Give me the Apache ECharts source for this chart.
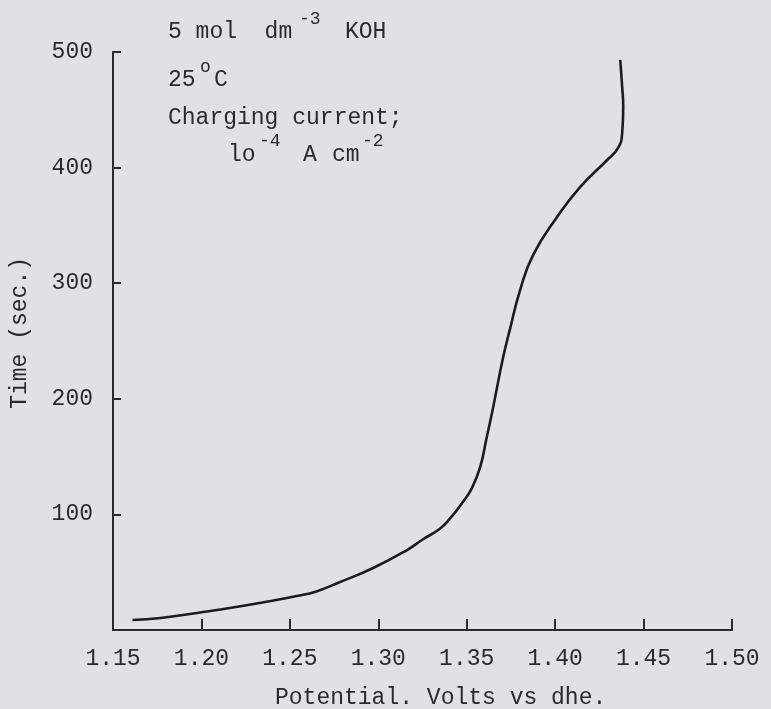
<!DOCTYPE html>
<html>
<head>
<meta charset="utf-8">
<script src="https://cdn.jsdelivr.net/npm/echarts@6/dist/echarts.min.js"></script>
<style>
html,body{margin:0;padding:0;background:#dfe2e5;}
#chart{width:771px;height:709px;}
</style>
</head>
<body>
<div id="chart"></div>
<script>
// Potential (V vs dhe) and time (s)
var potential = [1.161, 1.177, 1.201, 1.216, 1.233, 1.254, 1.265, 1.2784, 1.2971, 1.3163, 1.3253, 1.3350, 1.3406, 1.3474, 1.3530, 1.3578, 1.3610, 1.3644, 1.3672, 1.3706, 1.3745, 1.3802, 1.3876, 1.4011, 1.4141, 1.4294, 1.4356, 1.4379, 1.4385, 1.4379, 1.4368];
var timeSec   = [8.7, 10.4, 15.6, 19.0, 23.4, 29.4, 33.4, 41.5, 53.6, 69.2, 78.5, 87.8, 96.5, 109.9, 123.0, 142.0, 164.4, 188.5, 210.2, 236.0, 260.5, 294.1, 324.5, 357.3, 383.2, 406.6, 417.0, 429.9, 452.4, 469.7, 493.1];
var xTicks = [1.15, 1.50, 0.05];
var yTicks = [0, 500, 100];

var FONT = 'Liberation Mono';
var INK = '#2a2a2a';

var chart = echarts.init(document.getElementById('chart'));
var pts = potential.map(function (p, i) { return [p, timeSec[i]]; });

chart.setOption({
  backgroundColor: '#dfe2e5',
  animation: false,
  grid: { left: 113, right: 39, top: 52, bottom: 79 },
  xAxis: {
    type: 'value', min: xTicks[0], max: xTicks[1], interval: xTicks[2],
    axisLine: { show: true, lineStyle: { color: INK, width: 2 } },
    axisTick: { show: true, inside: true, length: 11, lineStyle: { color: INK, width: 2 } },
    splitLine: { show: false },
    axisLabel: { color: INK, fontFamily: FONT, fontSize: 23, margin: 17,
      formatter: function (v) { return v.toFixed(2); } }
  },
  yAxis: {
    type: 'value', min: yTicks[0], max: yTicks[1], interval: yTicks[2],
    axisLine: { show: true, lineStyle: { color: INK, width: 2 } },
    axisTick: { show: true, inside: true, length: 8, lineStyle: { color: INK, width: 2 } },
    splitLine: { show: false },
    axisLabel: { color: INK, fontFamily: FONT, fontSize: 23, margin: 20, showMinLabel: false,
      formatter: function (v) { return v === 0 ? '' : String(v); } }
  },
  series: [{
    type: 'line', data: pts, smooth: 0.5, showSymbol: false, symbol: 'none',
    lineStyle: { color: '#1c1c1c', width: 2.6 }
  }],
  graphic: [
    { type: 'text', left: 8, top: 257, rotation: Math.PI / 2,
      style: { text: 'Time (sec.)', fontFamily: FONT, fontSize: 23, fill: INK } },
    { type: 'text', left: 275, top: 686,
      style: { text: 'Potential. Volts vs dhe.', fontFamily: FONT, fontSize: 23, fill: INK } },
    { type: 'text', left: 168, top: 20, style: { text: '5 mol  dm', fontFamily: FONT, fontSize: 23, fill: INK } },
    { type: 'text', left: 299, top: 10, style: { text: '-3', fontFamily: FONT, fontSize: 18, fill: INK } },
    { type: 'text', left: 345, top: 20, style: { text: 'KOH', fontFamily: FONT, fontSize: 23, fill: INK } },
    { type: 'text', left: 168, top: 68, style: { text: '25', fontFamily: FONT, fontSize: 23, fill: INK } },
    { type: 'text', left: 200, top: 58, style: { text: 'o', fontFamily: FONT, fontSize: 18, fill: INK } },
    { type: 'text', left: 214, top: 68, style: { text: 'C', fontFamily: FONT, fontSize: 23, fill: INK } },
    { type: 'text', left: 168, top: 106, style: { text: 'Charging current;', fontFamily: FONT, fontSize: 23, fill: INK } },
    { type: 'text', left: 228, top: 143, style: { text: 'lo', fontFamily: FONT, fontSize: 23, fill: INK } },
    { type: 'text', left: 259, top: 132, style: { text: '-4', fontFamily: FONT, fontSize: 18, fill: INK } },
    { type: 'text', left: 303, top: 143, style: { text: 'A', fontFamily: FONT, fontSize: 23, fill: INK } },
    { type: 'text', left: 332, top: 143, style: { text: 'cm', fontFamily: FONT, fontSize: 23, fill: INK } },
    { type: 'text', left: 362, top: 132, style: { text: '-2', fontFamily: FONT, fontSize: 18, fill: INK } }
  ]
});
</script>
</body>
</html>
